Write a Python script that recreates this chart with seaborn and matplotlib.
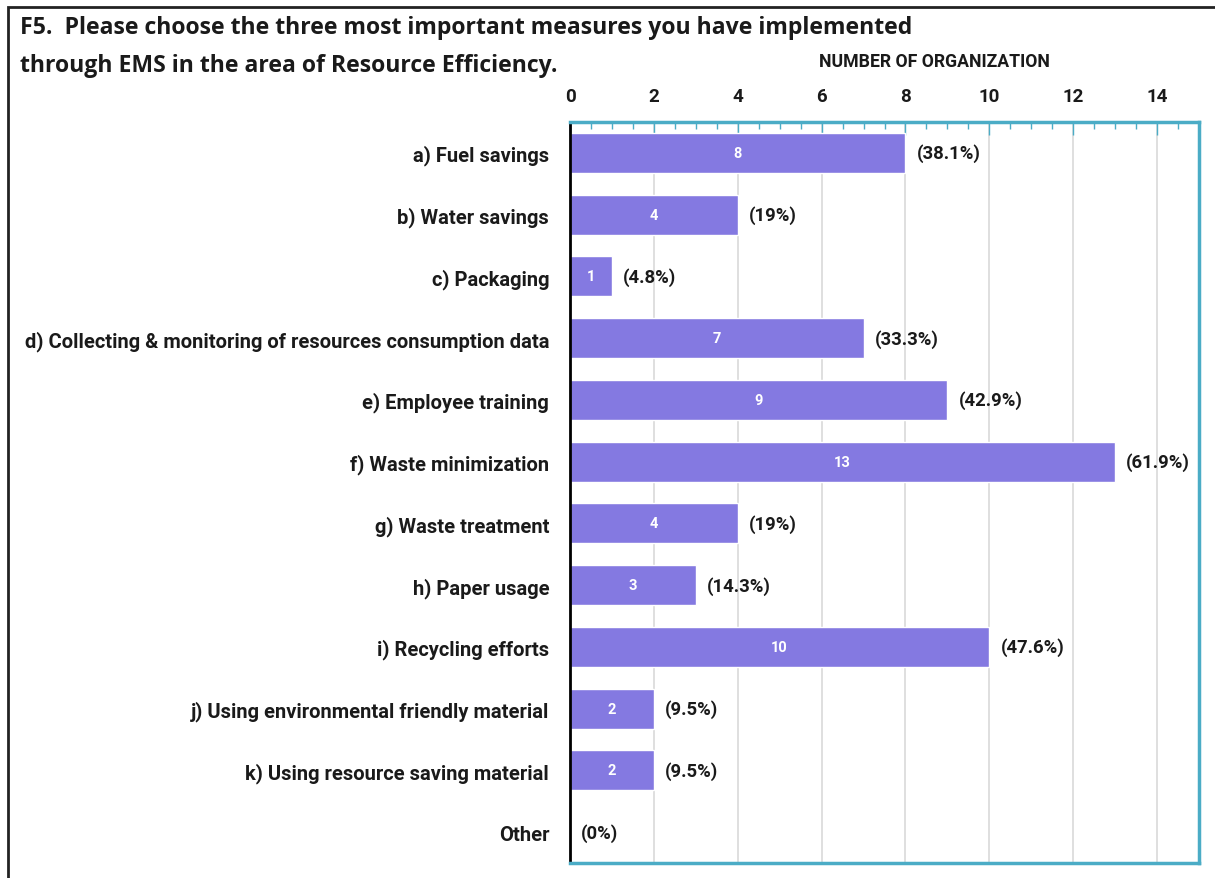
import matplotlib
matplotlib.use("Agg")
import matplotlib.pyplot as plt
import seaborn as sns
import pandas as pd
from matplotlib.patches import Rectangle
from matplotlib.ticker import MultipleLocator

# --- datos ---
categorias = [
    'a) Fuel savings', 'b) Water savings', 'c) Packaging',
    'd) Collecting & monitoring of resources consumption data',
    'e) Employee training', 'f) Waste minimization', 'g) Waste treatment',
    'h) Paper usage', 'i) Recycling efforts',
    'j) Using environmental friendly material',
    'k) Using resource saving material', 'Other'
]
conteos = [8, 4, 1, 7, 9, 13, 4, 3, 10, 2, 2, 0]
porcentajes = [38.1, 19, 4.8, 33.3, 42.9, 61.9, 19, 14.3, 47.6, 9.5, 9.5, 0]
titulo_lineas = ['F5.  Please choose the three most important measures you have implemented',
                 'through EMS in the area of Resource Efficiency.']

df = pd.DataFrame({'Medida': categorias, 'Organizaciones': conteos})

sns.set_style("white")
plt.rcParams['font.family'] = ['Roboto', 'DejaVu Sans']

color_barra = '#8479E1'
color_marco = '#4BACC6'
color_texto = '#1a1a1a'

fig = plt.figure(figsize=(12.15, 8.79), dpi=100)
ax = fig.add_axes([570 / 1215, 1 - 864 / 879, (1199 - 570) / 1215, (864 - 123) / 879])

sns.barplot(data=df, x='Organizaciones', y='Medida', orient='h', color=color_barra,
            width=0.65, ax=ax, saturation=1)

ax.set_xlim(0, 15)
ax.set_ylim(11.5, -0.5)
ax.xaxis.tick_top()
ax.xaxis.set_label_position('top')
ax.xaxis.set_major_locator(MultipleLocator(2))
ax.xaxis.set_minor_locator(MultipleLocator(0.5))
ax.set_xticks(range(0, 15, 2))
ax.tick_params(axis='x', which='major', direction='in', length=9, color=color_marco,
               labelsize=13.5, pad=12, width=1, labelcolor=color_texto)
ax.tick_params(axis='x', which='minor', direction='in', length=5, color=color_marco, width=1)
ax.tick_params(axis='y', length=0, labelsize=14.5, pad=15, labelcolor=color_texto)
for t in ax.get_xticklabels() + ax.get_yticklabels():
    t.set_fontweight('bold')

ax.grid(axis='x', color='#D9D9D9', linewidth=1.2)
ax.set_axisbelow(True)
ax.set_xlabel('NUMBER OF ORGANIZATION', fontsize=12.7, labelpad=15, fontweight='bold',
              color=color_texto)
ax.xaxis.label.set_position((0.58, 1))
ax.set_ylabel('')

for lado in ['top', 'right', 'bottom']:
    ax.spines[lado].set_color(color_marco)
    ax.spines[lado].set_linewidth(2.5)
ax.spines['left'].set_color('black')
ax.spines['left'].set_linewidth(2)

# etiquetas en barras
for i, (n, p) in enumerate(zip(conteos, porcentajes)):
    if n > 0:
        ax.text(n / 2, i, f'{n}', color='white', ha='center', va='center',
                fontsize=10.5, fontweight='bold')
    ax.annotate(f'({p:g}%)', (n, i), xytext=(8, 0), textcoords='offset points',
                ha='left', va='center', fontsize=13.3, fontweight='bold', color=color_texto)

# título en dos líneas
for linea, y_px in zip(titulo_lineas, [28, 66]):
    fig.text(20 / 1215, 1 - y_px / 879, linea, fontsize=16.6, fontweight='bold',
             family=['Open Sans', 'DejaVu Sans'], va='center', ha='left', color=color_texto)

# marco exterior
fig.patches.append(Rectangle((8 / 1215, -0.01), 1.2, 1 - 8 / 879 + 0.01, transform=fig.transFigure,
                             fill=False, edgecolor='#222222', linewidth=2, zorder=-1))

plt.savefig('out.png', dpi=100)
plt.close()
